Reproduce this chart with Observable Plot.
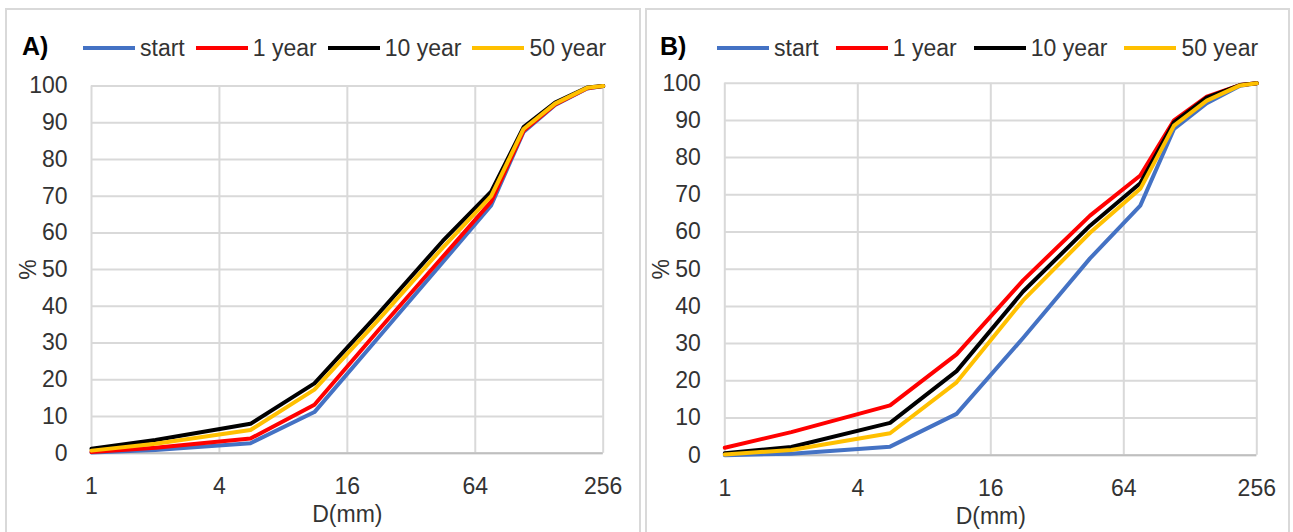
<!DOCTYPE html>
<html><head><meta charset="utf-8">
<script src="https://cdn.jsdelivr.net/npm/d3@7"></script>
<script src="https://cdn.jsdelivr.net/npm/@observablehq/plot@0.6"></script>
<style>
body{margin:0;background:#fff;font-family:"Liberation Sans",Arial,sans-serif;}
#root{position:relative;width:1293px;height:532px;overflow:hidden;background:#fff;}
.panel{position:absolute;top:8px;height:540px;border:2px solid #d9d9d9;box-sizing:border-box;}
.tag{position:absolute;font-weight:bold;font-size:25px;color:#000;line-height:1;}
.legend{position:absolute;display:flex;align-items:center;font-size:23px;color:#333;line-height:1;}
.item{display:flex;align-items:center;}
.swatch{width:52px;height:4px;margin-right:5px}
.plot{position:absolute;top:70px;}
</style></head>
<body><div id="root"></div>
<script>
// ---- data ----
const sizes = [1, 2, 5.6, 11.2, 22.4, 45, 76, 108, 152, 215, 256];
const seriesNames = ["start", "1 year", "10 year", "50 year"];
const seriesColors = ["#4472C4", "#FF0000", "#000000", "#FFC000"];
const xTicks = [1, 4, 16, 64, 256];
const yTicks = [0, 10, 20, 30, 40, 50, 60, 70, 80, 90, 100];
const panelTags = ["A)", "B)"];

// Panel A
const aStart  = [0.2, 0.9, 2.7, 11.2, 31.5, 52.0, 67.5, 87.5, 94.8, 99.3, 100];
const aYear1  = [0.3, 1.5, 4.0, 13.2, 33.5, 53.5, 68.5, 87.8, 95.0, 99.4, 100];
const aYear10 = [1.2, 3.6, 8.0, 19.0, 38.0, 57.8, 71.2, 88.8, 95.5, 99.6, 100];
const aYear50 = [0.7, 2.6, 6.3, 17.3, 36.3, 56.0, 70.0, 88.3, 95.2, 99.5, 100];
// Panel B
const bStart  = [0.0, 0.4, 2.3, 11.1, 31.5, 52.9, 67.1, 87.7, 94.6, 99.3, 100];
const bYear1  = [2.0, 6.2, 13.4, 27.1, 47.0, 64.4, 75.2, 90.0, 96.4, 99.5, 100];
const bYear10 = [0.5, 2.2, 8.7, 22.6, 44.0, 61.7, 73.1, 89.5, 96.1, 99.5, 100];
const bYear50 = [0.2, 1.4, 5.9, 19.6, 41.6, 59.8, 71.6, 88.6, 95.3, 99.4, 100];

const FONT = '"Liberation Sans", Arial, sans-serif';
const root = document.getElementById("root");

function buildPanel(cfg) {
  const panel = document.createElement("div");
  panel.className = "panel";
  panel.style.left = cfg.left + "px";
  panel.style.width = cfg.width + "px";
  root.appendChild(panel);

  const tag = document.createElement("div");
  tag.className = "tag";
  tag.textContent = cfg.tag;
  tag.style.left = cfg.tagX + "px";
  tag.style.top = "34px";
  root.appendChild(tag);

  const legend = document.createElement("div");
  legend.className = "legend";
  legend.style.left = cfg.legendX + "px";
  legend.style.top = "37px";
  legend.style.height = "22px";
  seriesNames.forEach((s, i) => {
    const it = document.createElement("div");
    it.className = "item";
    it.style.marginRight = cfg.legendGap + "px";
    const sw = document.createElement("span");
    sw.className = "swatch";
    sw.style.background = seriesColors[i];
    const tx = document.createElement("span");
    tx.textContent = s;
    it.appendChild(sw); it.appendChild(tx);
    legend.appendChild(it);
  });
  root.appendChild(legend);

  const data = [];
  cfg.values.forEach((vals, i) => sizes.forEach((d, j) => data.push({series: seriesNames[i], d, p: vals[j]})));

  const chart = Plot.plot({
    width: cfg.width, height: 462,
    marginLeft: cfg.ml, marginRight: cfg.mr, marginTop: cfg.mt, marginBottom: cfg.mb,
    style: {fontFamily: FONT, fontSize: "23px", color: "#333", background: "transparent", overflow: "visible"},
    x: {type: "log", base: 2, domain: [1, 256]},
    y: {domain: [0, 100]},
    color: {domain: seriesNames, range: seriesColors},
    marks: [
      Plot.gridX(xTicks, {stroke: "#d9d9d9", strokeOpacity: 1, strokeWidth: 2}),
      Plot.gridY(yTicks, {stroke: "#d9d9d9", strokeOpacity: 1, strokeWidth: 2}),
      Plot.ruleY([0], {stroke: "#bfbfbf", strokeWidth: 2}),
      Plot.axisX(xTicks, {tickSize: 0, tickPadding: 24, tickFormat: d => String(d), fontSize: 23,
        label: "D(mm)", labelAnchor: "center", labelOffset: 69, labelArrow: "none"}),
      Plot.axisY(yTicks, {tickSize: 0, tickPadding: 24, fontSize: 23,
        label: "%", labelAnchor: "center", labelOffset: 72, labelArrow: "none"}),
      Plot.line(data, {x: "d", y: "p", z: "series", stroke: "series", strokeWidth: 4,
        strokeLinejoin: "round", strokeLinecap: "round"})
    ]
  });
  chart.classList.add("plot");
  chart.style.left = cfg.left + "px";
  root.appendChild(chart);
}

buildPanel({tag: panelTags[0], left: 5, width: 636, tagX: 22, legendX: 83, legendGap: 11,
  ml: 86, mr: 38.3, mt: 15.5, mb: 79.3, values: [aStart, aYear1, aYear10, aYear50]});
buildPanel({tag: panelTags[1], left: 645, width: 645, tagX: 660, legendX: 717, legendGap: 17,
  ml: 79.3, mr: 33.7, mt: 12.7, mb: 77.3, values: [bStart, bYear1, bYear10, bYear50]});
</script></body></html>
